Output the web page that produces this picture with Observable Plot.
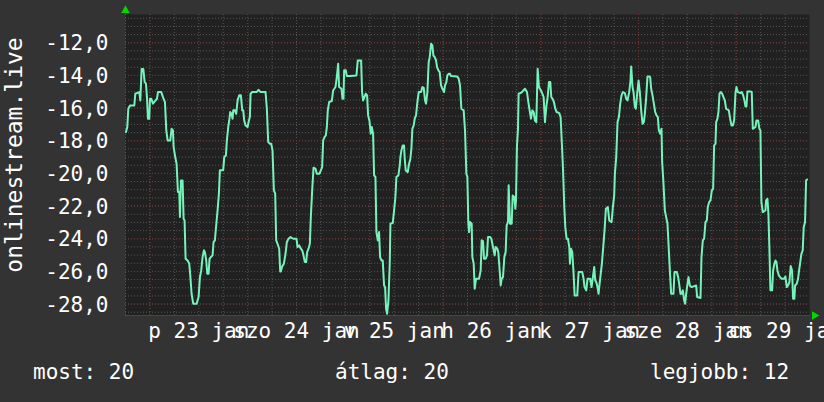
<!DOCTYPE html>
<html><head><meta charset="utf-8">
<script src="https://cdn.jsdelivr.net/npm/d3@7"></script>
<script src="https://cdn.jsdelivr.net/npm/@observablehq/plot@0.6"></script>
<style>
html,body{margin:0;padding:0;background:#333333;}
#chart{width:824px;height:402px;position:relative;overflow:hidden;background:#333333;}
#chart svg{display:block;}
#legend{position:relative;width:824px;height:42px;font-family:"DejaVu Sans Mono",monospace;font-size:21px;color:#ffffff;}
#legend span{position:absolute;top:2px;line-height:1;white-space:pre;}
</style></head><body>
<div id="chart"></div>
<script>
// hours since "jan 23" 00:00, temperature reading
const readings = [
[-5.88,-17.47],[-5.56,-17.16],[-5.31,-16.04],[-4.90,-15.84],[-3.84,-15.84],[-3.59,-15.12],[-2.61,-15.02],[-2.36,-15.53],[-2.04,-13.6],[-1.63,-13.6],[-1.30,-14.4],[-0.97,-14.51],[-0.73,-15.33],[-0.48,-16.65],[-0.16,-16.65],
[0.01,-15.43],[0.33,-15.43],[0.74,-15.73],[1.23,-15.57],[1.73,-15.43],[1.97,-15.02],[2.79,-15.02],[3.20,-15.33],[3.69,-15.63],[4.02,-17.37],[4.34,-17.98],[5.00,-17.98],[5.32,-17.27],[5.65,-17.37],[5.82,-18.39],[6.22,-19.0],[6.55,-19.41],[6.88,-21.14],[7.21,-21.14],[7.37,-22.67],[7.62,-20.43],[8.02,-20.43],[8.27,-22.78],[8.51,-22.88],[8.76,-25.22],[9.25,-25.33],[9.66,-25.53],[9.91,-26.24],[10.23,-27.37],[10.64,-27.98],[11.46,-27.98],[11.95,-27.57],[12.28,-26.35],[12.60,-25.94],[12.93,-25.12],[13.26,-24.71],[13.50,-24.82],[13.83,-25.33],[14.08,-26.14],[14.40,-26.14],[14.65,-25.22],[14.98,-25.12],[15.39,-25.02],[15.63,-24.2],[15.96,-24.1],[16.20,-23.39],[16.61,-22.27],[16.94,-21.24],[17.19,-19.8],[18.00,-19.8],[18.25,-19.0],[18.66,-18.9],[18.90,-17.98],[19.23,-17.16],[19.48,-16.76],[19.72,-16.24],[20.05,-16.35],[20.29,-16.65],[20.46,-16.14],[20.87,-16.14],[21.19,-16.35],
[21.53,-15.53],[21.93,-15.22],[22.34,-15.22],[22.67,-16.14],[22.92,-16.14],[23.16,-16.76],[23.49,-17.06],[23.98,-17.16],[24.31,-16.76],[24.55,-16.55],[24.72,-15.12],[25.12,-15.02],[26.19,-15.02],[26.68,-14.88],[27.17,-15.02],[28.40,-15.02],[28.72,-16.04],[29.05,-18.08],[29.46,-18.18],[29.79,-18.18],[30.11,-18.59],[30.44,-21.04],[30.77,-21.24],[31.01,-24.1],[31.34,-24.31],[31.75,-24.61],[32.00,-26.0],[32.16,-26.0],[32.49,-25.69],[32.90,-25.53],[33.30,-24.92],[33.63,-24.2],[34.04,-24.0],[34.53,-23.9],[35.19,-24.0],[36.00,-24.0],[36.25,-24.51],[36.66,-24.41],[37.07,-24.61],[37.39,-24.71],[37.64,-24.92],[38.05,-25.43],[38.38,-25.43],[38.62,-24.82],[38.95,-24.61],[39.28,-24.31],[39.52,-22.67],[39.85,-21.04],[40.18,-19.65],[40.67,-19.71],[40.99,-20.02],[41.65,-20.02],[41.98,-19.82],[42.30,-19.61],[42.55,-17.98],[42.88,-17.78],[43.20,-17.67],[43.45,-17.16],[43.69,-16.14],[44.02,-15.63],[44.67,-15.57],[45.00,-14.92],[45.57,-14.71],[45.90,-14.10],[46.23,-13.29],[46.47,-14.71],[47.05,-14.82],[47.29,-15.43],[47.54,-15.43],[47.70,-13.69],[48.11,-13.69],[48.36,-14.04],
[49.25,-14.04],[50.72,-14.0],[51.05,-13.08],[51.87,-13.08],[52.11,-15.02],[52.36,-15.53],[52.69,-15.33],[53.01,-15.12],[53.34,-15.22],[53.59,-16.45],[53.91,-16.76],[54.24,-17.57],[54.49,-17.16],[54.81,-17.57],[55.06,-20.12],[55.39,-20.22],[55.63,-23.59],[55.96,-24.1],[56.28,-23.59],[56.53,-25.12],[56.86,-25.33],[57.18,-25.33],[57.51,-26.86],[57.76,-26.96],[58.00,-28.29],[58.25,-28.6],[58.58,-27.78],[58.90,-25.53],[59.07,-23.08],[59.64,-23.04],[59.97,-22.27],[60.29,-21.45],[60.54,-20.22],[61.03,-20.12],[61.36,-19.51],[61.52,-19.0],[61.77,-18.59],[62.09,-18.29],[62.42,-18.29],[62.58,-19.1],[62.83,-19.82],[63.32,-19.92],[63.65,-19.41],[63.97,-19.1],[64.22,-18.49],[64.46,-17.27],[64.79,-17.06],[65.04,-16.65],[65.36,-16.45],[65.69,-15.63],[66.02,-15.02],[66.59,-15.02],[66.92,-14.71],[67.25,-14.76],[67.57,-15.53],[67.82,-15.73],[68.15,-15.02],[68.47,-13.18],[68.72,-12.88],[69.05,-12.06],[69.37,-12.16],[69.62,-12.78],[69.95,-12.88],[70.27,-13.08],[70.52,-13.49],[70.85,-13.69],[71.17,-13.8],[71.50,-14.61],[71.83,-14.82],[72.24,-15.02],[72.48,-14.61],[72.81,-14.41],[73.05,-14.0],[73.38,-13.9],[73.71,-13.9],[73.95,-14.04],[75.43,-14.06],[75.84,-14.2],[76.16,-14.61],[76.49,-16.04],[77.06,-16.14],
[77.39,-17.37],[77.72,-20.02],[77.97,-20.22],[78.21,-23.08],[78.38,-23.59],[78.62,-22.98],[79.03,-23.08],[79.19,-25.12],[79.52,-25.53],[79.77,-27.06],[80.09,-26.45],[80.83,-26.45],[81.24,-25.94],[81.48,-24.1],[81.81,-24.14],[82.06,-25.22],[82.47,-25.22],[82.79,-25.02],[83.04,-23.9],[83.53,-23.9],[83.86,-24.0],[84.10,-24.31],[84.43,-24.71],[84.67,-25.02],[84.92,-24.51],[85.33,-24.61],[85.57,-24.82],[85.90,-25.94],[86.15,-26.86],[86.39,-26.45],[86.72,-26.35],[87.05,-25.12],[87.37,-24.82],[87.62,-23.18],[87.95,-22.98],[88.11,-20.73],[88.44,-23.08],[88.85,-23.08],[89.09,-21.35],[89.50,-21.45],[89.75,-22.16],[89.91,-21.65],[90.15,-18.29],[90.40,-17.27],[90.56,-15.12],[91.05,-15.08],[91.38,-15.02],[91.71,-14.92],[92.12,-14.82],[92.61,-15.02],[92.94,-15.63],[93.26,-16.14],[93.59,-16.65],[93.92,-16.14],[94.24,-16.24],[94.57,-16.76],[94.90,-16.86],[95.23,-13.59],[95.55,-14.71],[96.04,-14.92],[96.37,-15.12],[96.70,-15.33],[97.03,-16.86],[97.35,-15.94],[97.68,-15.33],[98.01,-14.41],[98.33,-14.41],[98.58,-15.33],[98.91,-15.43],[99.23,-15.63],[99.56,-16.04],[99.89,-16.24],[100.54,-16.31],[100.87,-16.55],[101.20,-18.29],[101.44,-19.61],[101.77,-22.06],[102.02,-23.29],[102.34,-24.0],[102.67,-24.0],[103.00,-24.51],[103.16,-25.53],[103.41,-24.61],[103.73,-24.82],[104.06,-26.14],[104.31,-27.47],[104.96,-27.47],[105.29,-26.04],
[106.18,-26.04],[106.51,-26.45],[106.75,-26.96],[107.16,-27.16],[107.49,-26.45],[108.14,-26.45],[108.47,-26.96],[108.80,-26.35],[109.13,-25.73],[109.37,-26.55],[109.62,-26.65],[109.94,-26.96],[110.19,-27.37],[110.44,-26.76],[110.68,-26.24],[111.01,-25.53],[111.34,-24.51],[111.66,-23.49],[111.99,-22.16],[112.48,-22.06],[112.81,-22.88],[113.38,-22.98],[113.71,-22.06],[114.03,-21.35],[114.20,-20.02],[114.53,-19.0],[114.85,-16.86],[115.18,-16.55],[115.51,-15.73],[115.83,-15.22],[116.16,-15.02],[116.65,-15.08],[116.98,-15.43],[117.31,-15.53],[117.72,-15.02],[118.04,-14.31],[118.21,-13.45],[118.53,-14.71],[118.78,-15.02],[119.11,-15.94],[119.35,-16.04],[119.68,-15.12],[120.01,-14.31],[120.33,-15.02],[120.66,-16.14],[120.99,-16.96],[121.31,-16.86],[121.56,-16.35],[121.89,-15.33],[122.21,-14.06],[122.62,-14.06],[122.87,-14.10],[123.11,-14.82],[123.44,-15.22],[123.77,-15.73],[124.10,-16.24],[124.42,-16.45],[124.75,-16.55],[125.00,-17.37],[125.32,-17.57],[125.65,-17.27],[125.81,-19.31],[126.14,-20.63],[126.47,-22.27],[126.88,-22.78],[127.12,-23.08],[127.45,-24.71],[127.70,-25.94],[128.02,-27.37],[128.59,-27.37],[128.84,-26.04],[129.41,-26.04],[129.74,-26.35],[129.99,-26.76],[130.31,-27.37],[130.56,-27.37],[130.89,-27.16],[131.21,-27.78],[131.46,-27.98],[131.70,-27.37],[132.03,-26.76],[132.28,-26.35],[132.60,-26.86],[133.01,-26.96],
[134.16,-26.86],[134.41,-27.57],[135.23,-27.63],[135.47,-25.12],[135.80,-24.1],[136.12,-24.0],[136.45,-22.98],[136.78,-22.88],[137.02,-22.06],[137.35,-21.76],[137.68,-21.65],[138.01,-21.04],[138.33,-20.94],[138.58,-18.29],[138.91,-18.18],[139.07,-16.86],[139.40,-16.65],[139.64,-16.24],[139.89,-15.12],[140.21,-15.02],[140.54,-15.12],[140.87,-15.33],[141.20,-15.53],[141.52,-16.04],[142.18,-16.14],[142.51,-16.65],[142.83,-17.06],[143.16,-17.06],[143.49,-16.76],[143.81,-15.12],[144.06,-14.71],[144.39,-15.02],[145.04,-15.08],[145.37,-15.02],[145.70,-15.22],[146.02,-15.53],[146.27,-15.9],[146.51,-15.9],[146.76,-14.98],[147.50,-14.98],[147.82,-15.02],[148.07,-17.27],[148.72,-17.16],[148.97,-16.76],[149.38,-16.76],[149.70,-17.27],[149.95,-17.37],[150.19,-21.76],[150.52,-22.37],[151.18,-22.27],[151.34,-21.65],[151.67,-21.55],[151.91,-22.47],[152.16,-24.71],[152.40,-27.16],[152.81,-27.16],[153.06,-25.94],[153.38,-25.53],[153.63,-25.33],[153.88,-25.43],[154.12,-25.94],[154.45,-26.24],[155.10,-26.45],[155.76,-26.45],[156.08,-26.31],[156.41,-26.96],[156.74,-26.86],[157.07,-26.65],[157.39,-25.67],[157.72,-25.94],[157.97,-27.67],[158.29,-27.67],[158.46,-26.86],[158.87,-26.76],[159.19,-26.45],[159.44,-25.94],[159.68,-25.53],[160.01,-24.92],[160.34,-24.71],[160.58,-23.29],[160.91,-22.98],[161.16,-20.43],[161.40,-20.37]
];

const dayTicks = [12, 36, 60, 84, 108, 132, 156];
const dayLabels = ["p 23 jan", "szo 24 jan", "v 25 jan", "h 26 jan", "k 27 jan", "sze 28 jan", "cs 29 jan"];
const yTicks = [-28, -26, -24, -22, -20, -18, -16, -14, -12];
const yTickLabels = ["-28,0", "-26,0", "-24,0", "-22,0", "-20,0", "-18,0", "-16,0", "-14,0", "-12,0"];
const seriesName = "onlinestream.live";
const legendLabels = ["most: 20", "átlag: 20", "legjobb: 12"];

const xDomain = [-6, 162];
const yDomain = [-28.7, -10.27];
const minorY = d3.range(-28.5, -10.4, 0.5);
const minorX = d3.range(-6, 162, 6);
const majorX = d3.range(0, 162, 24);

const rows = readings.map(([h, v]) => ({h, v}));
const yLab = new Map(yTicks.map((t, i) => [t, yTickLabels[i]]));
const xLab = new Map(dayTicks.map((t, i) => [t, dayLabels[i]]));

const FONT = "DejaVu Sans Mono";
const minorColor = "#565656";
const majorColor = "#763434";

const chart = Plot.plot({
  width: 824, height: 360,
  marginLeft: 125, marginRight: 15, marginTop: 14, marginBottom: 45,
  style: {background: "#333333", color: "#ffffff", fontFamily: FONT, fontSize: "21px"},
  x: {domain: xDomain},
  y: {domain: yDomain},
  marks: [
    Plot.frame({fill: "#212121", stroke: null}),
    Plot.ruleY(minorY, {stroke: minorColor, strokeDasharray: "1,2"}),
    Plot.ruleX(minorX, {stroke: minorColor, strokeDasharray: "1,2"}),
    Plot.ruleY(yTicks, {stroke: majorColor, strokeDasharray: "1,2"}),
    Plot.ruleX(majorX, {stroke: majorColor, strokeDasharray: "1,2"}),
    Plot.frame({anchor: "bottom", stroke: "#474747"}),
    Plot.line(rows, {x: "h", y: "v", stroke: "#76f3bb", strokeWidth: 2}),
    Plot.axisY(yTicks, {tickSize: 0, tickPadding: 17, tickFormat: d => yLab.get(d), label: null, fontSize: 21, dy: 1}),
    Plot.axisX(dayTicks, {tickSize: 0, tickPadding: 8, tickFormat: d => xLab.get(d), label: null, fontSize: 21}),
    Plot.text([seriesName], {frameAnchor: "left", text: d => d, rotate: -90, dx: -111, dy: -10, fill: "#ffffff", fontSize: 23, textAnchor: "middle", lineAnchor: "middle"}),
    Plot.dot([0], {frameAnchor: "top-left", symbol: "triangle", r: 3.2, fill: "#00d800", stroke: null, dy: -4}),
    Plot.dot([0], {frameAnchor: "bottom-right", symbol: "triangle", r: 3.2, fill: "#00d800", stroke: null, rotate: 90, dx: 5})
  ]
});

const root = document.getElementById("chart");
root.appendChild(chart);
const legend = document.createElement("div");
legend.id = "legend";
const legendLeft = [33, 335, 650];
legendLabels.forEach((t, i) => {
  const s = document.createElement("span");
  s.textContent = t;
  s.style.left = legendLeft[i] + "px";
  legend.appendChild(s);
});
root.appendChild(legend);
</script>
</body></html>
